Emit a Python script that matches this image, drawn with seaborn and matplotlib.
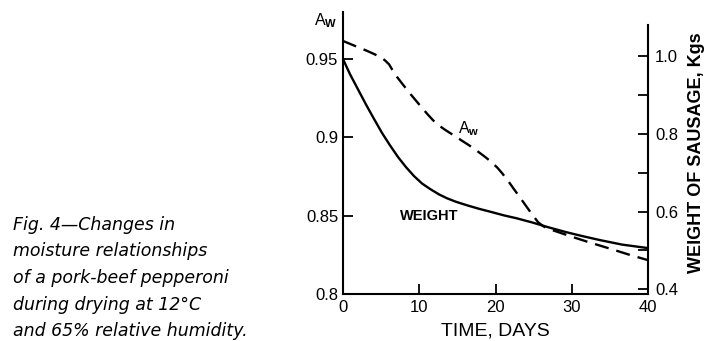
import matplotlib
matplotlib.use("Agg")
import matplotlib.pyplot as plt
import seaborn as sns

# water activity (left axis)
aw_days = [0, 1.05, 2.1, 3.15, 4.2, 4.99, 5.51, 6.04, 6.82, 7.87, 8.92, 9.97,
           11.02, 11.81, 12.6, 13.39, 14.44, 15.49, 16.54, 17.59, 18.64, 19.42,
           20.21, 20.87, 21.65, 22.44, 23.23, 24.02, 24.8, 25.59, 26.25, 26.9,
           27.69, 29.92, 32.28, 34.91, 37.53, 40]
aw_vals = [0.9615, 0.9594, 0.9573, 0.9552, 0.9529, 0.9510, 0.9491, 0.9466,
           0.9402, 0.9336, 0.9272, 0.9211, 0.9151, 0.9109, 0.9075, 0.9048,
           0.9015, 0.8982, 0.8949, 0.8913, 0.8875, 0.8844, 0.8808, 0.8771,
           0.8722, 0.8668, 0.8615, 0.8561, 0.8508, 0.8458, 0.8433, 0.8417,
           0.8404, 0.8367, 0.8330, 0.8291, 0.8251, 0.8216]

# sausage weight in kg (right axis)
wt_days = [0, 0.92, 1.97, 3.02, 4.07, 5.12, 6.17, 7.22, 8.27, 9.32, 10.37,
           11.42, 12.6, 13.65, 14.83, 16.27, 17.85, 19.42, 21.13, 22.7, 24.8,
           27.03, 29.27, 31.36, 33.6, 36.6, 40]
wt_vals = [0.992, 0.953, 0.914, 0.875, 0.838, 0.802, 0.770, 0.740, 0.714,
           0.691, 0.672, 0.658, 0.644, 0.634, 0.625, 0.616, 0.607, 0.599,
           0.590, 0.583, 0.572, 0.559, 0.547, 0.537, 0.527, 0.515, 0.506]

x_ticks = [0, 10, 20, 30, 40]
left_ticks = [0.8, 0.85, 0.9, 0.95]
left_labels = ["0.8", "0.85", "0.9", "0.95"]
right_ticks = [0.4, 0.5, 0.6, 0.7, 0.8, 0.9, 1.0]
right_labels = ["0.4", "", "0.6", "", "0.8", "", "1.0"]

caption = ["Fig. 4\u2014Changes in",
           "moisture relationships",
           "of a pork-beef pepperoni",
           "during drying at 12\u00b0C",
           "and 65% relative humidity."]

sns.set_theme(style="white")
plt.rcParams["font.family"] = ["Liberation Sans", "DejaVu Sans"]
plt.rcParams["text.color"] = "black"
plt.rcParams["mathtext.fontset"] = "custom"
plt.rcParams["mathtext.rm"] = "Liberation Sans"
plt.rcParams["mathtext.bf"] = "Liberation Sans:bold"

W, H = 712, 341
fig = plt.figure(figsize=(W / 100, H / 100), dpi=100)
ax = fig.add_axes([343 / W, 1 - 294 / H, (648 - 343) / W, (294 - 12) / H])

sns.lineplot(x=aw_days, y=aw_vals, ax=ax, color="black", lw=1.7)
ax.lines[-1].set_dashes((6, 3.4))
ax.set_xlim(0, 40)
ax.set_ylim(0.8, 0.98)
ax.set_xticks(x_ticks)
ax.set_xticklabels([str(t) for t in x_ticks])
ax.set_yticks(left_ticks)
ax.set_yticklabels(left_labels)

ax2 = ax.twinx()
sns.lineplot(x=wt_days, y=wt_vals, ax=ax2, color="black", lw=1.7)
ax2.set_ylim(0.388, 1.113)
ax2.set_yticks(right_ticks)
ax2.set_yticklabels(right_labels)

for a in (ax, ax2):
    for s in a.spines.values():
        s.set_color("black")
        s.set_linewidth(1.5)
    a.spines["top"].set_visible(False)
ax.spines["right"].set_visible(False)
ax2.spines["left"].set_visible(False)
ax2.spines["bottom"].set_visible(False)
ax2.spines["right"].set_bounds(0.388, 1.08)

ax.tick_params(axis="both", direction="in", length=7, width=1.3, color="black",
               labelsize=12, labelcolor="black", pad=4)
ax.tick_params(axis="x", top=False, bottom=True)
ax.tick_params(axis="y", left=True, right=False, pad=3.5)
ax2.tick_params(axis="y", direction="in", length=7, width=1.3, color="black",
                labelsize=12, labelcolor="black", pad=5, right=True, left=False)

ax.set_xlabel("TIME, DAYS", fontsize=14, color="black", labelpad=6)
ax.set_ylabel("")
ax2.set_ylabel("WEIGHT OF SAUSAGE, Kgs", fontsize=13, fontweight="bold",
               color="black", labelpad=7)
ax.grid(False)
ax2.grid(False)

# curve labels
ax.text(11.3, 0.850, "WEIGHT", fontsize=10.5, fontweight="bold",
        ha="center", va="center", color="black")
ax.text(15.1, 0.9025, r"A$_\mathbf{w}$", fontsize=11.5, ha="left",
        va="baseline", color="black")

# axis label for Aw at the top of the left axis
fig.text(314 / W, 1 - 25 / H, r"A$_\mathbf{W}$", fontsize=11.5,
         ha="left", va="baseline")

# figure caption
for i, line in enumerate(caption):
    fig.text(13 / W, 1 - (230 + 26.5 * i) / H, line, fontsize=12.5,
             style="italic", family=["DejaVu Sans"], color="black",
             ha="left", va="baseline")

fig.savefig("out.png", dpi=100)
